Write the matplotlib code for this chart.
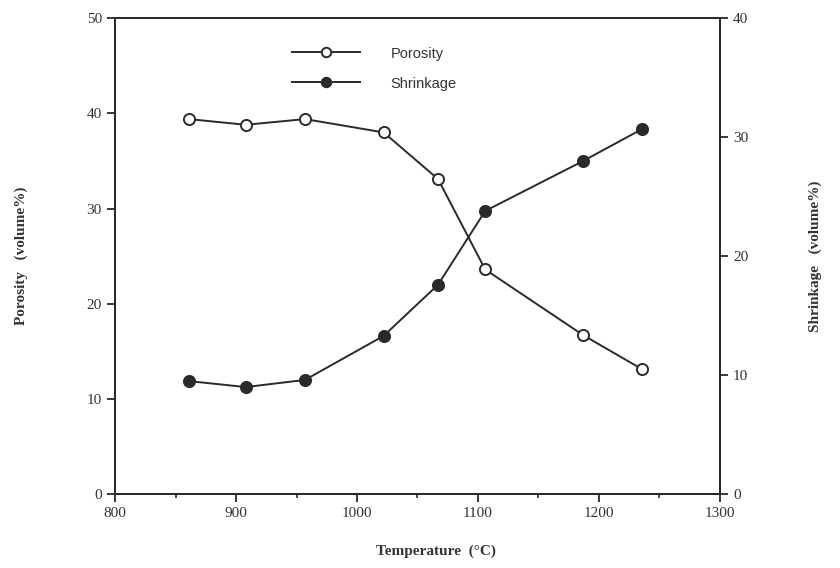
import matplotlib
matplotlib.use("Agg")
import matplotlib.pyplot as plt
from matplotlib.ticker import MultipleLocator

temperature = [861, 908, 957, 1022, 1067, 1106, 1187, 1236]
porosity = [39.4, 38.8, 39.4, 38.0, 33.1, 23.6, 16.7, 13.1]
shrinkage = [9.5, 9.0, 9.6, 13.3, 17.6, 23.8, 28.0, 30.7]

ink = "#2a2a2a"
serif = "Liberation Serif"
sans = "Liberation Sans"

fig = plt.figure(figsize=(8.4, 5.68), dpi=100)
ax = fig.add_axes([0.137, 0.130, 0.720, 0.838])
ax2 = ax.twinx()

l1, = ax.plot(temperature, porosity, color=ink, lw=1.4, marker="o", ms=8,
              mfc="white", mec=ink, mew=1.4, label="Porosity")
l2, = ax2.plot(temperature, shrinkage, color=ink, lw=1.4, marker="o", ms=8,
               mfc=ink, mec=ink, mew=1.4, label="Shrinkage")

ax.set_xlim(800, 1300)
ax.set_ylim(0, 50)
ax2.set_ylim(0, 40)
ax.xaxis.set_major_locator(MultipleLocator(100))
ax.xaxis.set_minor_locator(MultipleLocator(50))
ax.yaxis.set_major_locator(MultipleLocator(10))
ax2.yaxis.set_major_locator(MultipleLocator(10))

for a in (ax, ax2):
    for s in a.spines.values():
        s.set_color(ink)
        s.set_linewidth(1.4)
    a.tick_params(which="major", length=6, width=1.3, color=ink,
                  labelcolor="#333333", labelsize=11)
    a.tick_params(which="minor", length=3, width=1.2, color=ink)
    for lab in a.get_xticklabels() + a.get_yticklabels():
        lab.set_fontfamily(serif)

ax.set_xlabel("Temperature  (°C)", fontfamily=serif, fontweight="bold",
              fontsize=11, color="#333333")
ax.xaxis.set_label_coords(0.53, -0.105)
ax.set_ylabel("Porosity   (volume%)", fontfamily=serif, fontweight="bold",
              fontsize=11, color="#333333")
ax.yaxis.set_label_coords(-0.144, 0.5)
ax2.set_ylabel("Shrinkage   (volume%)", fontfamily=serif, fontweight="bold",
               fontsize=11, color="#333333")
ax2.yaxis.set_label_coords(1.147, 0.5)

leg = ax.legend(handles=[l1, l2], loc="upper left", bbox_to_anchor=(0.27, 0.968),
                frameon=False, handlelength=4.7, handletextpad=2.1,
                labelspacing=1.1, markerscale=0.85,
                prop={"family": sans, "size": 10.5})
for t in leg.get_texts():
    t.set_color("#333333")

fig.savefig("out.png", dpi=100, facecolor="white")
